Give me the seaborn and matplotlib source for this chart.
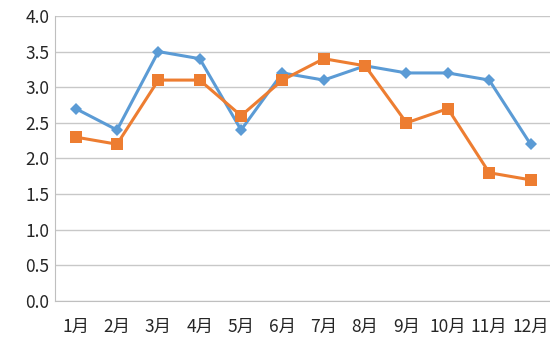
import matplotlib
matplotlib.use("Agg")
import matplotlib.pyplot as plt
import seaborn as sns
import pandas as pd
import numpy as np

months = ["1月", "2月", "3月", "4月", "5月", "6月", "7月", "8月", "9月", "10月", "11月", "12月"]
series_a = [2.7, 2.4, 3.5, 3.4, 2.4, 3.2, 3.1, 3.3, 3.2, 3.2, 3.1, 2.2]
series_b = [2.3, 2.2, 3.1, 3.1, 2.6, 3.1, 3.4, 3.3, 2.5, 2.7, 1.8, 1.7]
yticks = [0.0, 0.5, 1.0, 1.5, 2.0, 2.5, 3.0, 3.5, 4.0]

sns.set_style("white")
plt.rcParams['font.family'] = ['Noto Sans CJK SC', 'DejaVu Sans']

fig = plt.figure(figsize=(5.5, 3.39), dpi=100)
ax = fig.add_axes([0.1, 0.112, 0.906, 0.841])

df = pd.DataFrame({"month": months, "a": series_a, "b": series_b})
sns.lineplot(data=df, x="month", y="a", ax=ax, color="#5B9BD5", marker="D",
             markersize=6.5, markeredgewidth=0, linewidth=2.2, sort=False)
sns.lineplot(data=df, x="month", y="b", ax=ax, color="#ED7D31", marker="s",
             markersize=9, markeredgewidth=0, linewidth=2.2, sort=False)

ax.set_xlim(-0.5, 11.55)
ax.set_ylim(0, 4.0)
ax.set_yticks(yticks)
ax.set_yticklabels([f"{v:.1f}" for v in yticks], fontsize=12.5)
ax.yaxis.grid(True, color="#C8C8C8", linewidth=1)
ax.set_axisbelow(True)
ax.set_xlabel("")
ax.set_ylabel("")

ax.set_xticks(range(len(months)))
ax.set_xticklabels(months, fontsize=12.5)
ax.set_xticks(np.arange(-0.5, 12, 1), minor=True)
ax.tick_params(axis="x", which="major", length=0, pad=12)
ax.tick_params(axis="x", which="minor", length=5, color="#BFBFBF", width=1, direction="out")
ax.tick_params(axis="y", length=0, pad=4)

for s in ["top", "right"]:
    ax.spines[s].set_visible(False)
ax.spines["left"].set_color("#BFBFBF")
ax.spines["bottom"].set_color("#BFBFBF")

fig.savefig("out.png", dpi=100)
